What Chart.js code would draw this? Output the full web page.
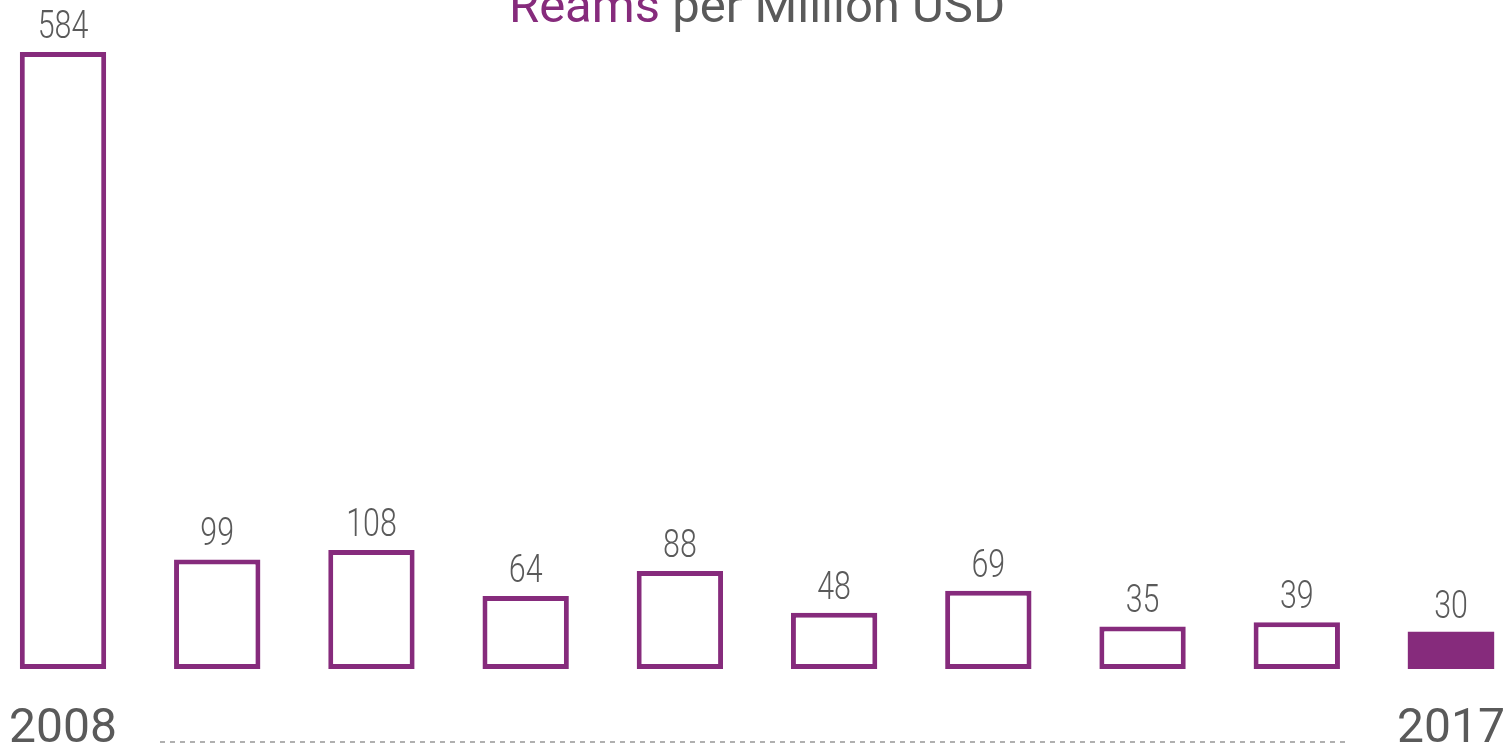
<!DOCTYPE html>
<html>
<head>
<meta charset="utf-8">
<script src="https://cdn.jsdelivr.net/npm/chart.js@4/dist/chart.umd.min.js"></script>
<style>
  html, body { margin: 0; padding: 0; background: #fff; }
  #wrap { width: 1511px; height: 750px; }
</style>
</head>
<body>
<div id="wrap"><canvas id="reamsChart" width="1511" height="750"></canvas></div>
<script>
const years = ["2008", "2009", "2010", "2011", "2012", "2013", "2014", "2015", "2016", "2017"];
const reams = [584, 99, 108, 64, 88, 48, 69, 35, 39, 30];
const edgeLabels = ["2008", "2017"];
const titleParts = ["Reams", " per Million USD"];

const purple = "#862b7c";
const grey = "#5a5a5a";

// value labels, year labels, title and dotted rule
const decorPlugin = {
  id: "decor",
  afterDatasetsDraw(chart) {
    const ctx = chart.ctx;
    const meta = chart.getDatasetMeta(0);
    const xScale = chart.scales.x;

    ctx.save();
    ctx.fillStyle = grey;
    ctx.textAlign = "center";
    ctx.textBaseline = "alphabetic";
    ctx.font = "300 38px Roboto";
    meta.data.forEach((bar, i) => {
      ctx.save();
      ctx.translate(bar.x, bar.y - 14);
      ctx.scale(0.8, 1);
      ctx.fillText(String(reams[i]), 0, 0);
      ctx.restore();
    });

    // first and last year under the bars
    ctx.font = "48px Roboto";
    edgeLabels.forEach(lbl => {
      const x = xScale.getPixelForValue(years.indexOf(lbl));
      ctx.fillText(lbl, x, 742);
    });

    // dotted rule between the years
    ctx.strokeStyle = "#b0b0b0";
    ctx.lineWidth = 2;
    ctx.setLineDash([5, 5]);
    ctx.beginPath();
    ctx.moveTo(160, 742);
    ctx.lineTo(1350, 742);
    ctx.stroke();
    ctx.setLineDash([]);

    // two-colour title
    ctx.font = "49px Roboto";
    const w0 = ctx.measureText(titleParts[0]).width;
    const w1 = ctx.measureText(titleParts[1]).width;
    let tx = 757 - (w0 + w1) / 2;
    ctx.textAlign = "left";
    ctx.fillStyle = purple;
    ctx.fillText(titleParts[0], tx, 22);
    ctx.fillStyle = grey;
    ctx.fillText(titleParts[1], tx + w0, 22);
    ctx.restore();
  }
};

const ctx = document.getElementById("reamsChart").getContext("2d");
new Chart(ctx, {
  type: "bar",
  data: {
    labels: years,
    datasets: [
      {
        data: reams,
        base: -5.7,
        backgroundColor: (c) => c.dataIndex === reams.length - 1 ? purple : "#ffffff",
        borderColor: purple,
        borderWidth: (c) => c.dataIndex === reams.length - 1 ? 0 : 5,
        borderSkipped: false,
        categoryPercentage: 1,
        barPercentage: 0.56,
        clip: false,
      },
    ],
  },
  options: {
    responsive: false,
    animation: false,
    layout: {
      padding: { left: 63, right: 60, top: 35, bottom: 81 }
    },
    scales: {
      x: { display: false, offset: false },
      y: { display: false, min: -5.7, max: 600.3 }
    },
    plugins: {
      legend: { display: false },
      tooltip: { enabled: false }
    }
  },
  plugins: [decorPlugin]
});
</script>
</body>
</html>
